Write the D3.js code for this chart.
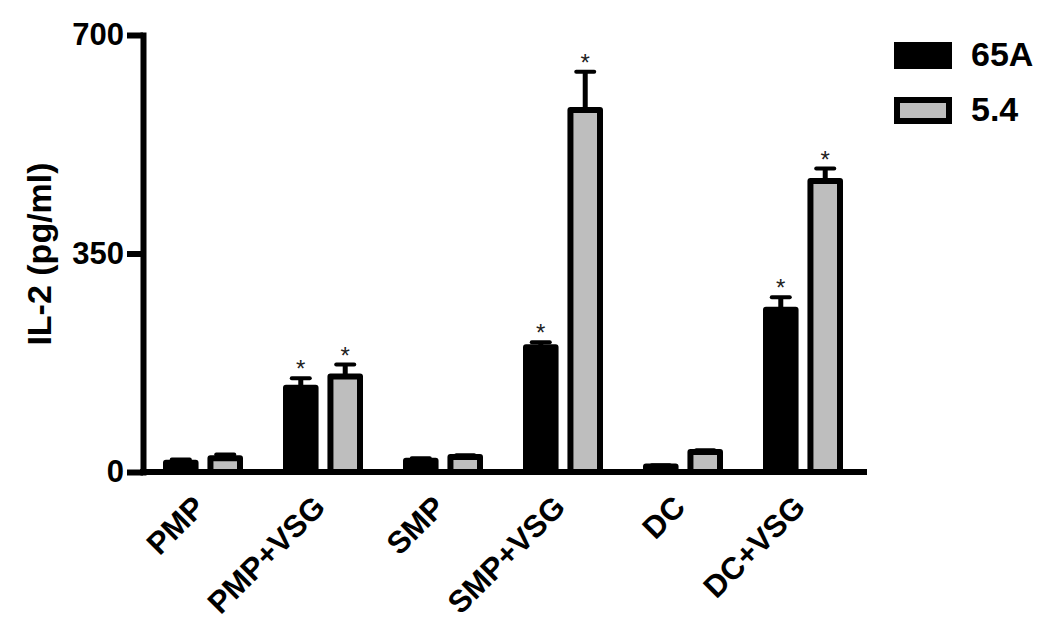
<!DOCTYPE html>
<html>
<head>
<meta charset="utf-8">
<script src="https://cdn.jsdelivr.net/npm/d3@7"></script>
<style>
  body { margin: 0; background: #fff; }
  svg { font-family: "Liberation Sans", Arial, sans-serif; font-weight: bold; }
</style>
</head>
<body>
<script>
var categories = ["PMP", "PMP+VSG", "SMP", "SMP+VSG", "DC", "DC+VSG"];
var series = ["65A", "5.4"];
var values65A = [15, 135, 18, 200, 9, 260];
var err65A = [5, 15, 4, 8, 2, 20];
var values54 = [22, 153, 24, 580, 32, 466];
var err54 = [6, 19, 3, 61, 3, 20];
var sig65A = [false, true, false, true, false, true];
var sig54 = [false, true, false, true, false, true];
var yTicks = [0, 350, 700];

var w = 1050;
var h = 620;
var colors = {"65A": "#000000", "5.4": "#bebebe"};

var svg = d3.select("body")
	.append("svg")
	.attr("width", w)
	.attr("height", h);

var y = d3.scaleLinear()
	.domain([0, 700])
	.range([472, 35]);

var x0 = d3.scaleBand()
	.domain(categories)
	.range([143, 863]);

var x1 = d3.scaleBand()
	.domain(series)
	.range([20, 100])
	.paddingInner(0.2);

// one row per bar
var rows = [];
categories.forEach(function(c, i) {
	rows.push({cat: c, s: "65A", v: values65A[i], e: err65A[i], sig: sig65A[i]});
	rows.push({cat: c, s: "5.4", v: values54[i], e: err54[i], sig: sig54[i]});
});

var bars = svg.selectAll("g.bar")
	.data(rows)
	.enter()
	.append("g")
	.attr("class", "bar")
	.attr("transform", function(d) {
		return "translate(" + (x0(d.cat) + x1(d.s)) + ",0)";
	});

var bw = x1.bandwidth();

// error bars first, the bar hides the lower part
bars.append("line")
	.attr("x1", bw / 2).attr("x2", bw / 2)
	.attr("y1", function(d) { return y(d.v); })
	.attr("y2", function(d) { return y(d.v + d.e); })
	.attr("stroke", "#000")
	.attr("stroke-width", 5);

bars.append("line")
	.attr("x1", bw / 2 - 9).attr("x2", bw / 2 + 9)
	.attr("y1", function(d) { return y(d.v + d.e); })
	.attr("y2", function(d) { return y(d.v + d.e); })
	.attr("stroke", "#000")
	.attr("stroke-width", 4)
	.attr("stroke-linecap", "round");

bars.append("rect")
	.attr("x", 3)
	.attr("width", bw - 6)
	.attr("y", function(d) { return y(d.v); })
	.attr("height", function(d) { return y(0) - y(d.v); })
	.attr("fill", function(d) { return colors[d.s]; })
	.attr("stroke", "#000")
	.attr("stroke-width", 6)
	.attr("stroke-linejoin", "round");

// significance stars
bars.filter(function(d) { return d.sig; })
	.append("text")
	.attr("x", bw / 2)
	.attr("y", function(d) { return y(d.v + d.e) - 1; })
	.attr("text-anchor", "middle")
	.attr("font-size", 24)
	.attr("font-weight", "normal")
	.attr("fill", "#222")
	.text("*");

// x axis line
svg.append("line")
	.attr("x1", 140).attr("x2", 867)
	.attr("y1", y(0)).attr("y2", y(0))
	.attr("stroke", "#000")
	.attr("stroke-width", 6);

// y axis
var yAxis = svg.append("g")
	.attr("transform", "translate(143,0)")
	.call(d3.axisLeft(y).tickValues(yTicks).tickSize(16).tickSizeOuter(0).tickPadding(3));

yAxis.select(".domain")
	.attr("stroke-width", 6)
	.attr("stroke-linecap", "square");
yAxis.selectAll(".tick line")
	.attr("stroke-width", 6);
yAxis.selectAll(".tick text")
	.attr("font-size", 31)
	.attr("font-family", "Liberation Sans, Arial, sans-serif")
	.attr("font-weight", "bold")
	.attr("fill", "#000");

// category labels
svg.selectAll("text.cat")
	.data(categories)
	.enter()
	.append("text")
	.attr("class", "cat")
	.attr("text-anchor", "end")
	.attr("font-size", 31)
	.attr("transform", function(d) {
		return "translate(" + (x0(d) + x0.bandwidth() / 2 + 4) + ",509) rotate(-45)";
	})
	.text(function(d) { return d; });

// y title
svg.append("text")
	.attr("text-anchor", "middle")
	.attr("font-size", 34)
	.attr("transform", "translate(51,254) rotate(-90)")
	.text("IL-2 (pg/ml)");

// legend
var legend = svg.selectAll("g.legend")
	.data(series)
	.enter()
	.append("g")
	.attr("class", "legend")
	.attr("transform", function(d, i) {
		return "translate(894," + (42 + i * 55) + ")";
	});

legend.append("rect")
	.attr("x", 3).attr("y", 3)
	.attr("width", 52).attr("height", 21)
	.attr("fill", function(d) { return colors[d]; })
	.attr("stroke", "#000")
	.attr("stroke-width", 6);

legend.append("text")
	.attr("x", 77)
	.attr("y", 24)
	.attr("font-size", 34)
	.text(function(d) { return d; });
</script>
</body>
</html>
